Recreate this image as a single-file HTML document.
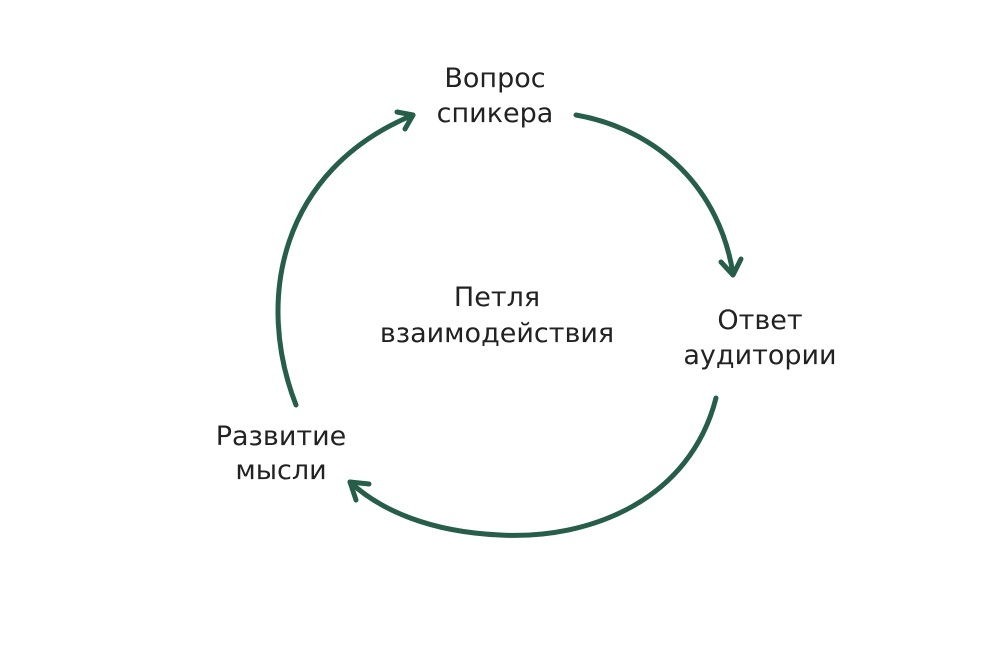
<!DOCTYPE html>
<html><head><meta charset="utf-8"><style>
html,body{margin:0;padding:0;background:#fff;}
svg{display:block}
text{font-family:"DejaVu Sans","Liberation Sans",sans-serif;font-size:27px;fill:#222;text-anchor:middle}
</style></head><body>
<svg width="1000" height="666" viewBox="0 0 1000 666">
<g fill="none" stroke="#265e4a" stroke-width="5" stroke-linecap="round" stroke-linejoin="round">
<path d="M576,115 C660,130 720,190 733,274"/>
<path d="M721,262 L733,275 L741,259"/>
<path d="M716,398 C690,500 590,540 500,535 C430,532 380,510 350,482"/>
<path d="M356,500 L350,482 L369,484"/>
<path d="M296,405 C255,300 280,170 413,115"/>
<path d="M397,112 L413,115 L405,129"/>
</g>
<text x="495" y="87">Вопрос</text>
<text x="495" y="122">спикера</text>
<text x="497" y="306">Петля</text>
<text x="497" y="342">взаимодействия</text>
<text x="760" y="329">Ответ</text>
<text x="760" y="364">аудитории</text>
<text x="281" y="445">Развитие</text>
<text x="281" y="479">мысли</text>
</svg>
</body></html>
